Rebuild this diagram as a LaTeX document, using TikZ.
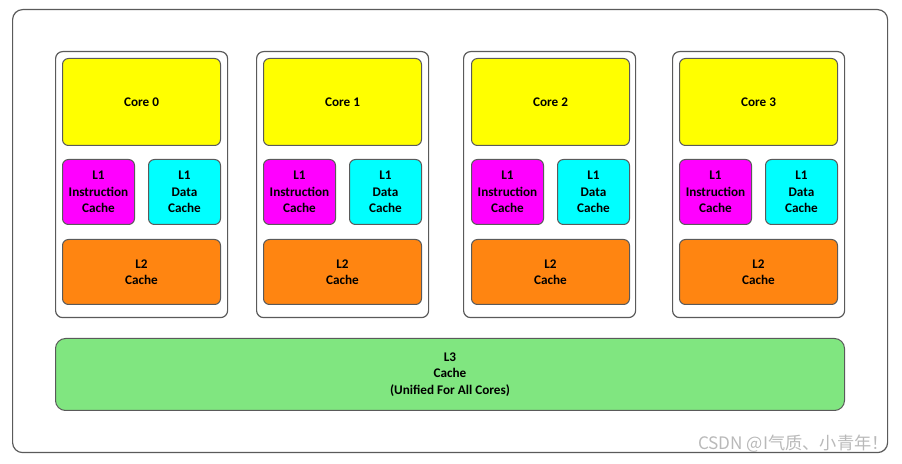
\documentclass[tikz,border=0pt]{standalone}
\usepackage{fontspec}
\setmainfont{Carlito}
\newfontfamily\cjkfont{Noto Sans CJK SC}
\usetikzlibrary{positioning,calc}
\definecolor{coreyellow}{RGB}{255,255,0}
\definecolor{l1magenta}{RGB}{255,0,255}
\definecolor{l1cyan}{RGB}{0,255,255}
\definecolor{l2orange}{RGB}{255,133,17}
\definecolor{l3green}{RGB}{128,230,128}
\definecolor{framegray}{RGB}{90,90,90}

\begin{document}
\begin{tikzpicture}[x=0.5pt,y=-0.5pt,
  box/.style={draw=framegray,line width=0.5pt,rounded corners=3pt,align=center,inner sep=0pt,font=\fontsize{6.6}{8.2}\selectfont\bfseries},
  corebox/.style={box,fill=coreyellow,minimum width=79pt,minimum height=43.5pt},
  icache/.style={box,fill=l1magenta,minimum width=36pt,minimum height=32.5pt},
  dcache/.style={box,fill=l1cyan,minimum width=36pt,minimum height=32.5pt},
  ltwo/.style={box,fill=l2orange,minimum width=79pt,minimum height=32.5pt},
  group/.style={draw=framegray,line width=0.6pt,fill=white,rounded corners=3.5pt,minimum width=86pt,minimum height=133pt,inner sep=0pt}]
\useasboundingbox (0,0) rectangle (902,464);
\node[draw=framegray,line width=0.6pt,rounded corners=5pt,minimum width=437.5pt,minimum height=221.5pt,anchor=north west] (chip) at (12,9) {};

% core 0
\node[group,anchor=north west] (grp0) at (55,51) {};
\node[corebox,anchor=north west] (core0) at (62,58) {Core 0};
\node[icache,below=6.5pt of core0.south west,anchor=north west] (l1i0) {L1\\Instruction\\Cache};
\node[dcache,below=6.5pt of core0.south east,anchor=north east] (l1d0) {L1\\Data\\Cache};
\node[ltwo,below=7pt of l1i0.south west,anchor=north west] (l2c0) {L2\\Cache};

% core 1
\node[group,anchor=north west] (grp1) at (256,51) {};
\node[corebox,anchor=north west] (core1) at (263,58) {Core 1};
\node[icache,below=6.5pt of core1.south west,anchor=north west] (l1i1) {L1\\Instruction\\Cache};
\node[dcache,below=6.5pt of core1.south east,anchor=north east] (l1d1) {L1\\Data\\Cache};
\node[ltwo,below=7pt of l1i1.south west,anchor=north west] (l2c1) {L2\\Cache};

% core 2
\node[group,anchor=north west] (grp2) at (463,51) {};
\node[corebox,anchor=north west] (core2) at (471,58) {Core 2};
\node[icache,below=6.5pt of core2.south west,anchor=north west] (l1i2) {L1\\Instruction\\Cache};
\node[dcache,below=6.5pt of core2.south east,anchor=north east] (l1d2) {L1\\Data\\Cache};
\node[ltwo,below=7pt of l1i2.south west,anchor=north west] (l2c2) {L2\\Cache};

% core 3
\node[group,anchor=north west] (grp3) at (672,51) {};
\node[corebox,anchor=north west] (core3) at (679,58) {Core 3};
\node[icache,below=6.5pt of core3.south west,anchor=north west] (l1i3) {L1\\Instruction\\Cache};
\node[dcache,below=6.5pt of core3.south east,anchor=north east] (l1d3) {L1\\Data\\Cache};
\node[ltwo,below=7pt of l1i3.south west,anchor=north west] (l2c3) {L2\\Cache};

% shared cache
\node[box,fill=l3green,rounded corners=5pt,minimum width=394.5pt,minimum height=36pt,anchor=north west] (l3c) at (55,338) {L3\\Cache\\(Unified For All Cores)};

\node[anchor=south east,inner sep=0pt,text=gray!55,font=\cjkfont\fontsize{8.6}{10}\selectfont] (mark) at (889,453) {CSDN @I气质、小青年！};
\end{tikzpicture}
\end{document}
